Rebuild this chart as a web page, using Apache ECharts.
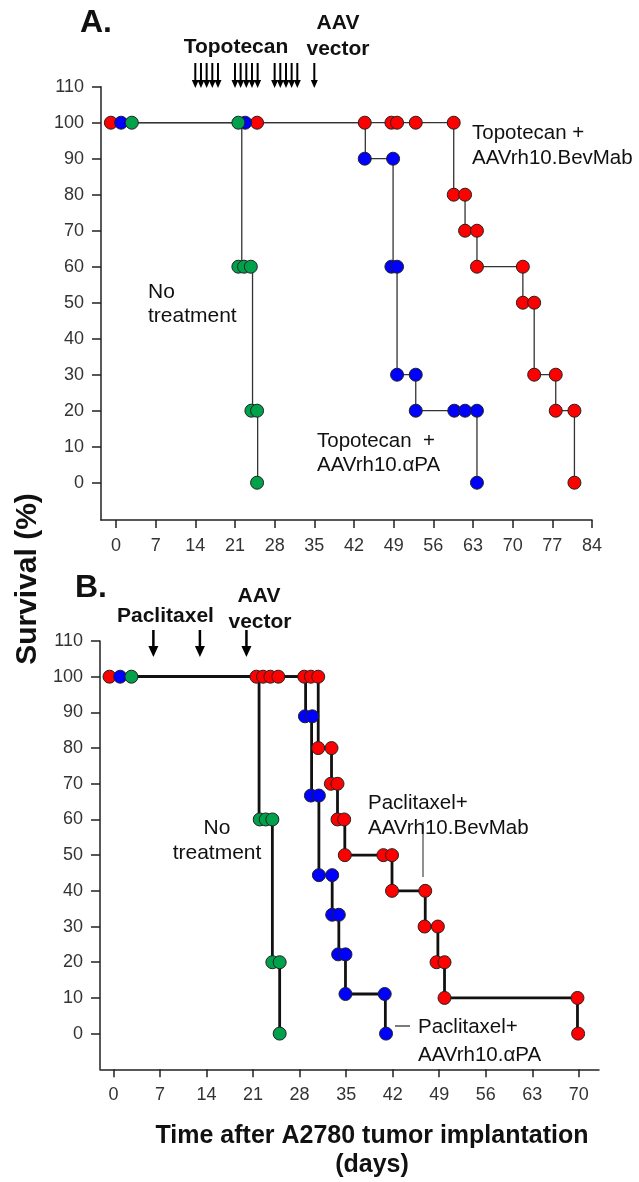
<!DOCTYPE html>
<html><head><meta charset="utf-8">
<script src="https://cdn.jsdelivr.net/npm/echarts@6/dist/echarts.min.js"></script>
<style>html,body{margin:0;padding:0;background:#fff}#c{width:639px;height:1182px}</style>
</head><body><div id="c"></div>
<script>
// ---------- tick labels ----------
const xTicksA = [0, 7, 14, 21, 28, 35, 42, 49, 56, 63, 70, 77, 84];
const xTicksB = [0, 7, 14, 21, 28, 35, 42, 49, 56, 63, 70];
const yTicks = [0, 10, 20, 30, 40, 50, 60, 70, 80, 90, 100, 110];

// ---------- Panel A: Topotecan (Kaplan-Meier steps: start time + event times, survival after) ----------
const kmA_bev_t = [-0.9, 59.6, 61.6, 63.7, 71.8, 73.8, 77.6, 80.9];
const kmA_bev_s = [100, 80, 70, 60, 50, 30, 20, 0];
const kmA_apa_t = [0.9, 44.0, 48.9, 49.6, 52.9, 63.7];
const kmA_apa_s = [100, 90, 60, 30, 20, 0];
const kmA_none_t = [2.8, 22.2, 24.1, 25.0];
const kmA_none_s = [100, 60, 20, 0];

const dotsA_bev = [[-0.9,100],[24.9,100],[43.9,100],[48.6,100],[49.6,100],[52.9,100],[59.6,100],[59.6,80],[61.6,80],[61.6,70],[63.7,70],[63.7,60],[71.8,60],[71.8,50],[73.8,50],[73.8,30],[77.6,30],[77.6,20],[80.9,20],[80.9,0]];
const dotsA_apa = [[0.9,100],[22.8,100],[43.9,90],[48.9,90],[48.6,60],[49.6,60],[49.6,30],[52.9,30],[52.9,20],[59.7,20],[61.6,20],[63.7,20],[63.7,0]];
const dotsA_none = [[2.8,100],[21.6,100],[21.6,60],[22.6,60],[23.8,60],[23.9,20],[24.9,20],[24.9,0]];

// ---------- Panel B: Paclitaxel ----------
const kmB_bev_t = [-0.6, 30.8, 32.8, 33.7, 34.8, 41.9, 46.9, 48.8, 49.8, 69.8];
const kmB_bev_s = [100, 80, 70, 60, 50, 40, 30, 20, 10, 0];
const kmB_apa_t = [1.0, 28.9, 29.8, 30.9, 32.9, 33.9, 34.9, 40.9];
const kmB_apa_s = [100, 88.9, 66.7, 44.4, 33.3, 22.2, 11.1, 0];
const kmB_none_t = [2.7, 21.9, 23.9, 25.0];
const kmB_none_s = [100, 60, 20, 0];

const dotsB_bev = [[-0.6,100],[21.5,100],[22.5,100],[23.6,100],[24.8,100],[28.7,100],[29.7,100],[30.8,100],[30.8,80],[32.8,80],[32.7,70],[33.7,70],[33.7,60],[34.7,60],[34.8,50],[40.6,50],[41.9,50],[41.9,40],[46.9,40],[46.8,30],[48.8,30],[48.6,20],[49.8,20],[49.8,10],[69.8,10],[69.9,0]];
const dotsB_apa = [[1.0,100],[28.8,88.9],[29.9,88.9],[29.7,66.7],[30.9,66.7],[30.9,44.4],[32.9,44.4],[32.9,33.3],[33.9,33.3],[33.8,22.2],[34.9,22.2],[34.9,11.1],[40.8,11.1],[41.0,0]];
const dotsB_none = [[2.7,100],[22.0,60],[22.9,60],[23.9,60],[23.9,20],[25.0,20],[25.0,0]];

// ---------- treatment days (arrows) ----------
const topotecanDays = [14, 15, 16, 17, 18, 21, 22, 23, 24, 25, 28, 29, 30, 31, 32];
const aavDayA = [35];
const paclitaxelDays = [6, 13];
const aavDayB = [20];

// ---------- styling ----------
const FONT = "'Liberation Sans', Arial, sans-serif";
const RED = '#ff0000', BLUE = '#0000ff', GREEN = '#00a14b';

function kmPath(t, s) {
  const pts = [[t[0], s[0]]];
  for (let i = 1; i < t.length; i++) {
    pts.push([t[i], s[i - 1]]);
    pts.push([t[i], s[i]]);
  }
  return pts;
}

function xAxisCfg(grid, min, max, ticks) {
  return {
    type: 'value', gridIndex: grid, min: min, max: max,
    axisLine: { show: true, onZero: false, lineStyle: { color: '#222', width: 1.5 } },
    axisTick: { show: true, customValues: ticks, length: 8, lineStyle: { color: '#222', width: 1.5 } },
    axisLabel: { customValues: ticks, fontSize: 18, fontFamily: FONT, color: '#333', margin: 17 },
    splitLine: { show: false }
  };
}
function yAxisCfg(grid, min) {
  return {
    type: 'value', gridIndex: grid, min: min, max: 110,
    axisLine: { show: true, onZero: false, lineStyle: { color: '#222', width: 1.5 } },
    axisTick: { show: true, customValues: yTicks, length: 9, lineStyle: { color: '#222', width: 1.5 } },
    axisLabel: { customValues: yTicks, fontSize: 18, fontFamily: FONT, color: '#333', margin: 17 },
    splitLine: { show: false }
  };
}
function lineSeries(idx, data, w, c) {
  return { type: 'line', xAxisIndex: idx, yAxisIndex: idx, data: data, showSymbol: false, symbol: 'none',
    lineStyle: { color: c, width: w }, z: 2, silent: true, animation: false };
}
function dotSeries(idx, data, color, z) {
  return { type: 'scatter', xAxisIndex: idx, yAxisIndex: idx, data: data, symbolSize: 13,
    itemStyle: { color: color, borderColor: '#222', borderWidth: 1, opacity: 1 }, z: z, animation: false };
}

const chart = echarts.init(document.getElementById('c'), null, { renderer: 'canvas' });
chart.setOption({
  animation: false,
  backgroundColor: '#fff',
  grid: [
    { left: 101, top: 86.7, width: 491, height: 433.3 },
    { left: 100, top: 641, width: 499, height: 428.3 }
  ],
  xAxis: [xAxisCfg(0, -2.64, 84, xTicksA), xAxisCfg(1, -2.03, 73.04, xTicksB)],
  yAxis: [yAxisCfg(0, -10.36), yAxisCfg(1, -10)],
  series: [
    lineSeries(0, kmPath(kmA_bev_t, kmA_bev_s), 1.3, '#333'),
    lineSeries(0, kmPath(kmA_apa_t, kmA_apa_s), 1.3, '#333'),
    lineSeries(0, kmPath(kmA_none_t, kmA_none_s), 1.3, '#333'),
    dotSeries(0, dotsA_bev, RED, 3),
    dotSeries(0, dotsA_apa, BLUE, 4),
    dotSeries(0, dotsA_none, GREEN, 5),
    lineSeries(1, kmPath(kmB_bev_t, kmB_bev_s), 2.8, '#111'),
    lineSeries(1, kmPath(kmB_apa_t, kmB_apa_s), 2.8, '#111'),
    lineSeries(1, kmPath(kmB_none_t, kmB_none_s), 2.8, '#111'),
    dotSeries(1, dotsB_bev, RED, 3),
    dotSeries(1, dotsB_apa, BLUE, 4),
    dotSeries(1, dotsB_none, GREEN, 5)
  ]
});

// ---------- annotations ----------
function txt(text, x, y, size, weight, align, extra) {
  return Object.assign({ type: 'text', x: x, y: y, silent: true, z: 10,
    style: { text: text, fontSize: size, fontWeight: weight, fontFamily: FONT, fill: '#111',
      align: align || 'left', verticalAlign: 'middle' } }, extra || {});
}
function arrow(px, y0, y1, headH, headW, lw) {
  return [
    { type: 'line', silent: true, z: 10, shape: { x1: px, y1: y0, x2: px, y2: y1 - headH + 1 }, style: { stroke: '#000', lineWidth: lw } },
    { type: 'polygon', silent: true, z: 10, shape: { points: [[px - headW / 2, y1 - headH], [px + headW / 2, y1 - headH], [px, y1]] }, style: { fill: '#000' } }
  ];
}
const g = [];
const pxA = d => chart.convertToPixel({ xAxisIndex: 0 }, d);
const pxB = d => chart.convertToPixel({ xAxisIndex: 1 }, d);
topotecanDays.concat(aavDayA).forEach(d => g.push(...arrow(pxA(d), 63, 88, 8, 7, 2)));
paclitaxelDays.concat(aavDayB).forEach(d => g.push(...arrow(pxB(d), 630, 657, 11, 10, 2.5)));

// Panel A texts
g.push(txt('A.', 80, 23, 32, 'bold'));
g.push(txt('Topotecan', 236, 47, 21, 'bold', 'center'));
g.push(txt('AAV', 338, 23, 21, 'bold', 'center'));
g.push(txt('vector', 338, 49, 21, 'bold', 'center'));
g.push(txt('Topotecan +', 472, 133, 20.5, 'normal'));
g.push(txt('AAVrh10.BevMab', 472, 158, 20.5, 'normal'));
g.push(txt('No', 148, 292, 21, 'normal'));
g.push(txt('treatment', 148, 316, 21, 'normal'));
g.push(txt('Topotecan  +', 317, 441, 20.5, 'normal'));
g.push(txt('AAVrh10.\u03b1PA', 317, 465, 20.5, 'normal'));

// Y title
g.push(txt('Survival (%)', 28, 579, 30, 'bold', 'center', { rotation: Math.PI / 2 }));

// Panel B texts
g.push(txt('B.', 75, 588, 32, 'bold'));
g.push(txt('Paclitaxel', 117, 616, 21, 'bold'));
g.push(txt('AAV', 259, 596, 21, 'bold', 'center'));
g.push(txt('vector', 260, 622, 21, 'bold', 'center'));
g.push(txt('No', 217, 828, 21, 'normal', 'center'));
g.push(txt('treatment', 217, 853, 21, 'normal', 'center'));
g.push(txt('Paclitaxel+', 368, 803, 20.5, 'normal'));
g.push(txt('AAVrh10.BevMab', 368, 828, 20.5, 'normal'));
g.push({ type: 'line', silent: true, z: 9, shape: { x1: 423, y1: 822, x2: 423, y2: 877 }, style: { stroke: '#222', lineWidth: 1 } });
g.push(txt('Paclitaxel+', 418, 1027, 20.5, 'normal'));
g.push(txt('AAVrh10.\u03b1PA', 418, 1055, 20.5, 'normal'));
g.push({ type: 'line', silent: true, z: 9, shape: { x1: 395, y1: 1026, x2: 410, y2: 1026 }, style: { stroke: '#222', lineWidth: 1.2 } });

// X title
g.push(txt('Time after A2780 tumor implantation', 372, 1136, 25, 'bold', 'center'));
g.push(txt('(days)', 372, 1165, 25, 'bold', 'center'));

chart.setOption({ graphic: g });
</script>
</body></html>
